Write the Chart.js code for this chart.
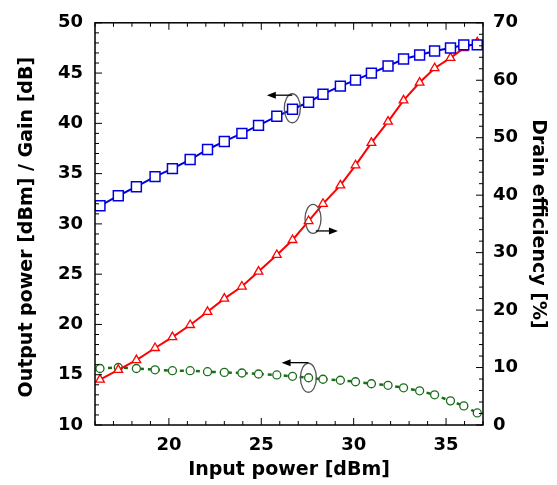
<!DOCTYPE html>
<html><head><meta charset="utf-8">
<script src="https://cdn.jsdelivr.net/npm/chart.js@4/dist/chart.umd.min.js"></script>
<style>html,body{margin:0;padding:0;background:#fff}#wrap{width:557px;height:485px}</style>
</head><body><div id="wrap"><canvas id="c" width="557" height="485"></canvas></div>
<script>
// input power sweep [dBm]
const PIN=[16.27,17.26,18.24,19.25,20.19,21.15,22.09,23.0,23.95,24.85,25.84,26.69,27.56,28.34,29.28,30.1,30.96,31.86,32.7,33.57,34.38,35.24,35.96,36.69];
const POUT=[31.8,32.8,33.7,34.7,35.5,36.4,37.4,38.2,39.0,39.8,40.7,41.4,42.1,42.9,43.7,44.3,45.0,45.7,46.4,46.8,47.2,47.5,47.8,47.8];
const EFF=[7.9,9.6,11.3,13.4,15.3,17.4,19.7,22.0,24.1,26.7,29.6,32.2,35.5,38.5,41.7,45.2,49.1,52.8,56.5,59.6,62.1,63.9,65.6,66.6];
const GAIN=[15.62,15.72,15.62,15.49,15.4,15.4,15.3,15.23,15.17,15.07,14.98,14.84,14.7,14.55,14.45,14.3,14.1,13.95,13.7,13.4,13.0,12.4,11.9,11.2];
const X_TICKS=[20,25,30,35];
const L_TICKS=[10,15,20,25,30,35,40,45,50];
const R_TICKS=[0,10,20,30,40,50,60,70];
// curve markers (ellipse centre + arrow), in x / left-axis units
const MARKS=[
 {x:26.68,y:41.5,x0:26.68,y0:42.8,x1:25.3,y1:42.8},
 {x:27.8,y:30.5,x0:27.95,y0:29.3,x1:29.15,y1:29.3},
 {x:27.55,y:14.7,x0:27.55,y0:16.2,x1:26.1,y1:16.2},
];

const el=id=>document.getElementById(id);
Chart.defaults.font.family='"DejaVu Sans",sans-serif';
Chart.defaults.font.size=18;
Chart.defaults.font.weight='bold';
Chart.defaults.color='#000';
const pts=ys=>PIN.map((x,i)=>({x,y:ys[i]}));
const TF={size:19,weight:"bold"};

const frame={id:"frame",afterDraw(c){
  const {ctx,chartArea:a,scales:{x,y,y2}}=c;
  ctx.save();ctx.strokeStyle="#000";ctx.lineWidth=1;
  const line=(x1,y1,x2,y2)=>{ctx.beginPath();ctx.moveTo(x1,y1);ctx.lineTo(x2,y2);ctx.stroke();};
  for(let v=16;v<=37;v++){const p=x.getPixelForValue(v),L=v%5?4:7;line(p,a.bottom,p,a.bottom-L);line(p,a.top,p,a.top+L);}
  for(let v=10;v<=50;v++){const p=y.getPixelForValue(v),L=v%5?4:7;line(a.left,p,a.left+L,p);}
  for(let v=0;v<=70;v+=2){const p=y2.getPixelForValue(v),L=v%10?4:7;line(a.right,p,a.right-L,p);}
  ctx.lineWidth=1.5;ctx.strokeRect(a.left,a.top,a.right-a.left,a.bottom-a.top);
  MARKS.forEach(m=>{
    ctx.strokeStyle="#555";ctx.lineWidth=1.3;
    ctx.beginPath();ctx.ellipse(x.getPixelForValue(m.x),y.getPixelForValue(m.y),8,14.5,0,0,Math.PI*2);ctx.stroke();
    const ax=x.getPixelForValue(m.x0),ay=y.getPixelForValue(m.y0),bx=x.getPixelForValue(m.x1),by=y.getPixelForValue(m.y1);
    const d=Math.sign(bx-ax);
    ctx.strokeStyle="#000";ctx.fillStyle="#000";ctx.lineWidth=1.3;
    line(ax,ay,bx-d*6,by);
    ctx.beginPath();ctx.moveTo(bx,by);ctx.lineTo(bx-d*9,by-3.5);ctx.lineTo(bx-d*9,by+3.5);ctx.closePath();ctx.fill();
  });
  ctx.restore();
}};

const axisBase={grid:{display:false,drawTicks:false},border:{display:false}};
new Chart(el("c"),{type:"line",
  data:{datasets:[
    {data:pts(POUT),yAxisID:"y",borderColor:"#0000e0",borderWidth:2,pointStyle:"rect",pointRadius:7,pointBorderWidth:1.5,pointBorderColor:"#0000e0",pointBackgroundColor:"#fff"},
    {data:pts(EFF),yAxisID:"y2",borderColor:"#ff0000",borderWidth:2,pointStyle:"triangle",pointRadius:5,pointBorderWidth:1.3,pointBorderColor:"#ff0000",pointBackgroundColor:"#fff"},
    {data:pts(GAIN),yAxisID:"y",borderColor:"#1a6e1a",borderWidth:2.5,borderDash:[4,4],pointStyle:"circle",pointRadius:4,pointBorderWidth:1.3,pointBorderColor:"#1a6e1a",pointBackgroundColor:"#fff"},
  ]},
  options:{responsive:false,animation:false,layout:{padding:{top:16,left:0,right:0,bottom:0}},
    plugins:{legend:{display:false},tooltip:{enabled:false}},
    scales:{
      x:{...axisBase,type:"linear",min:16,max:37,afterFit:s=>{s.height=60;},
        afterBuildTicks:s=>{s.ticks=X_TICKS.map(v=>({value:v}));},ticks:{padding:10},
        title:{display:true,text:"Input power [dBm]",font:TF,padding:{top:0,bottom:4}}},
      y:{...axisBase,position:"left",min:10,max:50,afterFit:s=>{s.width=95;},
        afterBuildTicks:s=>{s.ticks=L_TICKS.map(v=>({value:v}));},ticks:{padding:12},
        title:{display:true,text:"Output power [dBm] / Gain [dB] ",font:TF,padding:{top:16,bottom:0}}},
      y2:{...axisBase,position:"right",min:0,max:70,afterFit:s=>{s.width=74;},
        afterBuildTicks:s=>{s.ticks=R_TICKS.map(v=>({value:v}));},ticks:{padding:10},
        title:{display:true,text:"Drain efficiency [%]",font:TF,padding:{top:8,bottom:0}}},
    }},
  plugins:[frame]});
</script></body></html>
